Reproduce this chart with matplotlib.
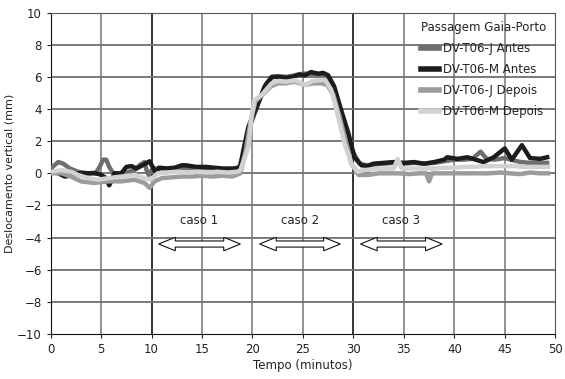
import matplotlib
matplotlib.use("Agg")
import matplotlib.pyplot as plt
from matplotlib.patches import Polygon

# ---------------- data ----------------
t_m_antes = [0, 0.4, 0.75, 1.4, 1.9, 2.7, 3.7, 4.3, 4.85, 5.5, 5.8, 6.0, 6.3, 7.0, 7.5, 8.0, 8.5, 9.1, 9.8, 10.1,
             10.4, 10.75, 11.5, 12.3, 13.0, 13.4, 14.4, 15.4, 16.2, 17.0, 17.8, 18.4, 18.8, 19.1, 19.6, 20.4, 21.2,
             21.9, 22.5, 23.2, 24.0, 24.6, 25.2, 25.8, 26.5, 27.0, 27.5, 28.1, 28.8, 29.5, 30.1, 30.8, 31.4, 32.0,
             33.0, 34.0, 35.0, 36.0, 37.0, 38.0, 39.0, 39.3, 40.3, 41.3, 42.1, 42.9, 43.9, 45.0, 45.7, 46.7, 47.5,
             48.5, 49.2]
v_m_antes = [0.15, 0.1, 0.0, -0.2, -0.15, 0.0, 0.0, 0.0, -0.05, -0.3, -0.75, -0.5, 0.0, 0.0, 0.4, 0.45, 0.3, 0.5,
             0.75, 0.4, 0.05, 0.35, 0.3, 0.35, 0.5, 0.5, 0.4, 0.4, 0.35, 0.3, 0.3, 0.3, 0.4, 1.45, 2.9, 4.1, 5.4,
             6.0, 6.0, 5.95, 6.0, 6.15, 6.1, 6.3, 6.2, 6.25, 6.1, 5.4, 3.9, 2.5, 1.0, 0.5, 0.45, 0.6, 0.65, 0.7,
             0.65, 0.7, 0.6, 0.7, 0.85, 1.0, 0.9, 1.0, 0.85, 0.7, 1.0, 1.55, 0.85, 1.75, 0.95, 0.9, 1.0]

t_j_antes = [0, 0.75, 1.25, 1.9, 2.7, 3.7, 4.5, 4.85, 5.2, 5.5, 5.8, 6.2, 6.6, 7.5, 8.3, 8.9, 9.3, 9.5, 9.7, 10.0,
             10.3, 11, 12, 13, 14, 15, 16, 17, 18, 18.7, 19.2, 19.8, 20.6, 21.4, 22.0, 22.6, 23.4, 24.2, 25.0,
             25.8, 26.6, 27.3, 27.8, 28.5, 29.2, 29.9, 30.6, 31.3, 32, 33, 34, 35, 36, 37, 38, 39, 40, 41, 41.8,
             42.6, 43.2, 44, 45, 45.9, 46.6, 47.5, 48.5, 49.2]
v_j_antes = [0.3, 0.7, 0.6, 0.3, 0.1, 0.0, 0.05, 0.4, 0.85, 0.85, 0.4, 0.0, -0.1, 0.05, 0.2, 0.55, 0.7, 0.2, -0.1,
             0.2, 0.3, 0.3, 0.3, 0.35, 0.3, 0.3, 0.3, 0.25, 0.25, 0.4, 1.5, 3.0, 4.4, 5.6, 6.0, 6.05, 6.0, 6.1,
             6.2, 6.2, 6.15, 6.1, 5.6, 4.3, 2.9, 1.4, 0.6, 0.5, 0.55, 0.6, 0.65, 0.6, 0.65, 0.6, 0.65, 0.75, 0.85,
             0.85, 0.9, 1.35, 0.9, 0.85, 0.95, 0.8, 0.7, 0.65, 0.65, 0.65]

t_j_depois = [0, 1.1, 2.0, 3.0, 4.3, 5.0, 5.7, 7.0, 8.3, 9.3, 9.8, 10.3, 11, 12, 13, 14, 15, 16, 17, 18, 18.8,
              19.3, 19.8, 20.3, 21.0, 21.8, 22.5, 23.3, 24.2, 25.2, 26.0, 26.8, 27.4, 28.0, 28.6, 29.2, 29.8,
              30.5, 31.5, 32.5, 33.5, 34.5, 35.5, 36.5, 37.2, 37.5, 37.8, 38.5, 39.5, 40.5, 41.5, 42.5, 43.5,
              44.5, 45.5, 46.5, 47.5, 48.5, 49.3]
v_j_depois = [0.0, 0.0, -0.2, -0.5, -0.6, -0.55, -0.5, -0.5, -0.4, -0.6, -0.9, -0.5, -0.3, -0.25, -0.2, -0.2,
              -0.15, -0.2, -0.15, -0.2, 0.0, 1.3, 3.2, 4.5, 4.9, 5.4, 5.6, 5.6, 5.7, 5.5, 5.6, 5.6, 5.5, 4.9, 3.6,
              2.1, 0.6, -0.1, -0.1, 0.0, 0.0, 0.0, -0.05, 0.0, 0.0, -0.5, 0.0, 0.0, 0.0, 0.0, 0.0, 0.0, 0.0, 0.05,
              0.0, -0.05, 0.05, 0.0, 0.0]

t_m_depois = [0, 1.1, 2.0, 2.7, 3.7, 4.7, 5.7, 7.0, 8.3, 9.3, 9.9, 10.6, 11.5, 12.5, 13.5, 14.5, 15.5, 16.5, 17.5,
              18.5, 18.8, 19.6, 19.9, 20.2, 20.9, 21.9, 22.6, 23.4, 24.2, 25.2, 26.0, 26.7, 27.2, 27.8, 28.5, 29.1,
              29.8, 30.4, 31.0, 32.0, 33.0, 34.0, 34.4, 34.8, 36, 37, 38, 39, 40, 41, 42, 43, 44, 45, 46, 47, 48,
              49.3]
v_m_depois = [0.1, 0.2, 0.1, -0.1, -0.3, -0.4, -0.3, -0.2, -0.1, -0.3, -0.4, 0.0, 0.05, 0.1, 0.05, 0.1, 0.05,
              0.1, 0.05, 0.1, 0.2, 1.65, 3.5, 4.56, 4.87, 5.6, 5.75, 5.7, 5.8, 5.5, 5.75, 5.8, 5.8, 5.2, 3.5, 1.9,
              0.6, 0.1, 0.2, 0.25, 0.3, 0.3, 0.9, 0.3, 0.3, 0.3, 0.3, 0.35, 0.35, 0.4, 0.4, 0.45, 0.45, 0.45,
              0.45, 0.4, 0.4, 0.4]

series_labels = ["DV-T06-J Antes", "DV-T06-M Antes", "DV-T06-J Depois", "DV-T06-M Depois"]
case_labels = ["caso 1", "caso 2", "caso 3"]
case_start = [10.7, 20.7, 30.7]
case_end = [18.8, 28.7, 38.8]
x_ticks = [0, 5, 10, 15, 20, 25, 30, 35, 40, 45, 50]
y_ticks = [-10, -8, -6, -4, -2, 0, 2, 4, 6, 8, 10]

# ---------------- figure ----------------
plt.rcParams['font.family'] = ['DejaVu Sans']
fig = plt.figure(figsize=(5.65, 3.79), dpi=100)
ax = fig.add_axes([0.0897, 0.1187, 0.893, 0.848])

ax.set_xlim(0, 50)
ax.set_ylim(-10, 10)

# grid
for xv in x_ticks[1:-1]:
    col = '#111111' if xv in (10, 30) else '#808080'
    ax.axvline(xv, color=col, lw=1.2, zorder=1)
for yv in y_ticks[1:-1]:
    ax.axhline(yv, color='#707070', lw=1.3, zorder=1)

colors = ['#6e6e6e', '#1c1c1c', '#9c9c9c', '#d2d2d2']
data = [(t_j_antes, v_j_antes), (t_m_antes, v_m_antes), (t_j_depois, v_j_depois), (t_m_depois, v_m_depois)]
for (t, v), c, lab in zip(data, colors, series_labels):
    ax.plot(t, v, color=c, lw=3.2, label=lab, zorder=3, solid_joinstyle='round')

# case arrows
yc = -4.4
for lab, x0, x1 in zip(case_labels, case_start, case_end):
    hl = 1.65
    sh = 0.19
    hh = 0.42
    pts = [(x0, yc), (x0 + hl, yc + hh), (x0 + hl, yc + sh), (x1 - hl, yc + sh), (x1 - hl, yc + hh),
           (x1, yc), (x1 - hl, yc - hh), (x1 - hl, yc - sh), (x0 + hl, yc - sh), (x0 + hl, yc - hh)]
    ax.add_patch(Polygon(pts, closed=True, facecolor='white', edgecolor='#111111', lw=0.8, zorder=4))
    ax.text((x0 + x1) / 2, -2.95, lab, ha='center', va='center', fontsize=8.5, color='#222222', zorder=5)

ax.set_xticks(x_ticks)
ax.set_yticks(y_ticks)
ax.tick_params(labelsize=8.5, length=3, colors='#222222', width=0.8)
for s in ['left', 'bottom']:
    ax.spines[s].set_color('#111111')
for s in ['top', 'right']:
    ax.spines[s].set_color('#555555')
ax.set_xlabel('Tempo (minutos)', fontsize=8.5, color='#222222', labelpad=2)
ax.set_ylabel('Deslocamento vertical (mm)', fontsize=8, color='#222222', labelpad=2)

leg = ax.legend(loc='upper left', bbox_to_anchor=(0.72, 0.995), frameon=False, fontsize=8.5,
                title='Passagem Gaia-Porto', title_fontsize=8.5, alignment='left',
                handlelength=1.5, handletextpad=0.4, labelspacing=0.68, borderaxespad=0.2)
for line in leg.get_lines():
    line.set_linewidth(4)
for txt in leg.get_texts():
    txt.set_color('#222222')
leg.get_title().set_color('#222222')
leg.set_zorder(6)

fig.savefig('out.png', dpi=100)
